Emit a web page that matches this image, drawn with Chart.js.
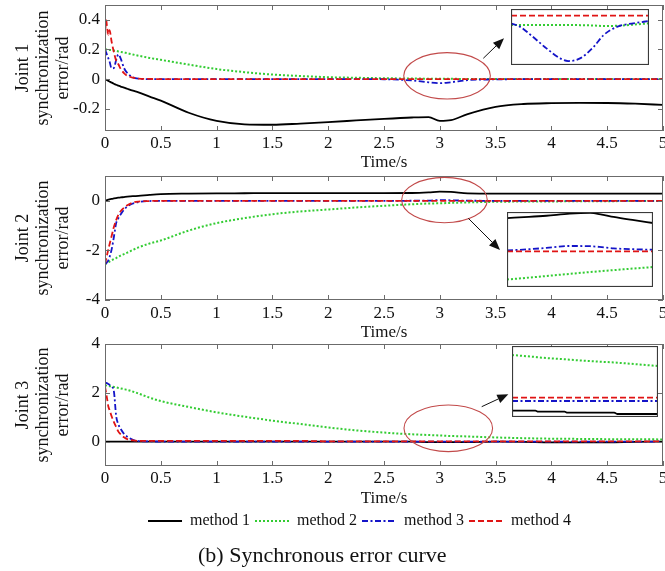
<!DOCTYPE html>
<html><head><meta charset="utf-8">
<script src="https://cdn.jsdelivr.net/npm/chart.js@4.4.1/dist/chart.umd.min.js"></script>
<style>
html,body{margin:0;padding:0;background:#fff;width:665px;height:571px;overflow:hidden;position:relative}
canvas{position:absolute;display:block}
.inset{background:#fff}
#caption{position:absolute;left:198px;top:542px;font-family:'Liberation Serif','Times New Roman',serif;font-size:22px;line-height:26px;color:#111;white-space:nowrap}
</style></head><body>
<canvas id="c1" width="665" height="173" style="left:0;top:0"></canvas>
<canvas id="c2" width="665" height="173" style="left:0;top:170px"></canvas>
<canvas id="c3" width="665" height="179" style="left:0;top:330px"></canvas>
<canvas id="i1" class="inset" width="138" height="56" style="left:511px;top:9px"></canvas>
<canvas id="i2" class="inset" width="146" height="75" style="left:507px;top:212px"></canvas>
<canvas id="i3" class="inset" width="146" height="71" style="left:512px;top:346px"></canvas>
<canvas id="lg" width="665" height="36" style="left:0;top:508px"></canvas>
<div id="caption">(b) Synchronous error curve</div>
<script>
// ---------- data ----------
const methodLabels = ['method 1', 'method 2', 'method 3', 'method 4'];
const time = [0,0.01,0.02,0.03,0.04,0.06,0.08,0.1,0.12,0.14,0.17,0.2,0.25,0.3,0.4,0.5,0.75,1,1.25,1.5,1.75,2,2.25,2.5,2.75,2.9,3,3.1,3.25,3.5,3.75,4,4.25,4.5,4.75,5];

const joint1M1 = [0,-0.004,-0.008,-0.012,-0.016,-0.024,-0.031,-0.038,-0.044,-0.05,-0.057,-0.065,-0.078,-0.09,-0.118,-0.145,-0.227,-0.282,-0.305,-0.308,-0.3,-0.29,-0.279,-0.268,-0.259,-0.256,-0.282,-0.277,-0.236,-0.187,-0.168,-0.162,-0.16,-0.161,-0.166,-0.174];
const joint1M2 = [0.2,0.2,0.199,0.198,0.197,0.195,0.193,0.19,0.187,0.184,0.179,0.175,0.166,0.158,0.143,0.13,0.098,0.068,0.047,0.031,0.021,0.013,0.009,0.006,0.004,0.003,0.002,0.002,0.001,0.001,0.001,0,0,0,0,0];
const joint1M3 = [0.2,0.18,0.16,0.14,0.12,0.072,0.075,0.13,0.167,0.14,0.075,0.04,0.012,0.003,0,0,0,0,0,0,0,0,0,-0.001,-0.009,-0.022,-0.0275,-0.021,-0.007,-0.002,0,0,0,0,0,0];
const joint1M4 = [0.28,0.4,0.34,0.3,0.33,0.25,0.18,0.125,0.1,0.07,0.04,0.022,0.01,0.003,0.001,0,0,0,0,0,0,0,0,0,0,0,0,0,0,0,0,0,0,0,0,0];

const joint2M1 = [0,0.015,0.03,0.045,0.06,0.08,0.095,0.11,0.125,0.135,0.15,0.165,0.185,0.2,0.24,0.27,0.29,0.3,0.305,0.31,0.31,0.31,0.31,0.31,0.315,0.34,0.37,0.36,0.3,0.29,0.29,0.29,0.29,0.29,0.29,0.29];
const joint2M2 = [-2.55,-2.53,-2.5,-2.48,-2.45,-2.4,-2.35,-2.31,-2.26,-2.21,-2.15,-2.09,-1.98,-1.88,-1.72,-1.6,-1.2,-0.9,-0.7,-0.54,-0.43,-0.35,-0.27,-0.2,-0.14,-0.11,-0.1,-0.085,-0.065,-0.04,-0.03,-0.025,-0.02,-0.015,-0.01,-0.005];
const joint2M3 = [-2.55,-2.52,-2.47,-2.4,-2.28,-1.95,-1.45,-0.9,-0.7,-0.55,-0.36,-0.23,-0.11,-0.05,-0.01,0,0,0,0,0,0,0,0,0,0.002,0.01,0.03,0.02,0.005,0,0,0,0,0,0,0];
const joint2M4 = [-2.55,-2.35,-2.15,-1.95,-1.77,-1.41,-1.05,-0.78,-0.56,-0.42,-0.28,-0.18,-0.07,-0.03,-0.01,0,0,0,0,0,0,0,0,0,0,0,0,0,0,0,0,0,0,0,0,0];

const joint3M1 = [0,0,0,0,0,0,0,0,0,0,0,0,0,0,0,0,0,0,0,0,0,0,0,0,0,-0.02,-0.02,-0.02,-0.02,0,-0.01,-0.03,-0.03,-0.03,-0.01,0];
const joint3M2 = [2.3,2.3,2.29,2.28,2.27,2.26,2.24,2.22,2.2,2.18,2.15,2.12,2.05,1.97,1.8,1.66,1.42,1.2,1.02,0.86,0.72,0.58,0.46,0.37,0.3,0.27,0.25,0.23,0.21,0.17,0.14,0.12,0.11,0.1,0.095,0.09];
const joint3M3 = [2.42,2.41,2.39,2.36,2.33,2.25,2.05,1.05,0.7,0.52,0.32,0.2,0.07,0.02,0.01,0,0,0,0,0,0,0,0,0,0,0,0,0,0,0,0,0,0,0,0,0];
const joint3M4 = [2.26,2.0,1.72,1.44,1.3,1.03,0.8,0.6,0.41,0.3,0.18,0.1,0.05,0.03,0.03,0.03,0.03,0.03,0.03,0.03,0.03,0.01,0.01,0.01,0.01,0.01,0.01,0.01,0.01,0.01,0.01,0.01,0.01,0.01,0.01,0.01];

// zoomed insets (around t = 3 s)
const inset1Time = [2.7,2.745,2.81,2.88,2.95,2.99,3.05,3.12,3.17,3.24,3.32,3.4];
const inset1M2 = [-0.0057,-0.0057,-0.0057,-0.0057,-0.0057,-0.0057,-0.0058,-0.006,-0.0063,-0.0062,-0.0055,-0.0047];
const inset1M3 = [-0.0047,-0.0067,-0.0128,-0.0199,-0.026,-0.0276,-0.026,-0.0189,-0.0118,-0.0067,-0.0047,-0.0033];
const inset1M4 = [0,0,0,0,0,0,0,0,0,0,0,0];

const inset2Time = [2.65,2.77,2.866,2.994,3.106,3.17,3.234,3.346,3.45];
const inset2M1 = [0.139,0.144,0.149,0.158,0.161,0.154,0.144,0.13,0.118];
const inset2M2 = [-0.123,-0.115,-0.108,-0.099,-0.091,-0.087,-0.083,-0.076,-0.07];
const inset2M3 = [0.001,0.006,0.012,0.02,0.019,0.015,0.01,0.006,0.004];
const inset2M4 = [-0.003,-0.003,-0.003,-0.003,-0.003,-0.003,-0.003,-0.003,-0.003];

const inset3Time = [2.65,2.778,2.794,2.858,2.938,2.954,3.042,3.21,3.226,3.45];
const inset3M1 = [0.013,0.013,0.003,0.003,0.003,-0.007,-0.007,-0.007,-0.02,-0.02];
const inset3M2 = [0.57,0.55,0.547,0.537,0.527,0.525,0.513,0.495,0.493,0.46];
const inset3M3 = [0.11,0.11,0.11,0.11,0.11,0.11,0.11,0.11,0.11,0.11];
const inset3M4 = [0.143,0.143,0.143,0.143,0.143,0.143,0.143,0.143,0.143,0.143];

const xTicks = [0,0.5,1,1.5,2,2.5,3,3.5,4,4.5,5];
const yTicks1 = [-0.2,0,0.2,0.4];
const yTicks2 = [-4,-2,0];
const yTicks3 = [0,2,4];
const yTitle1 = ['Joint 1','synchronization','error/rad'];
const yTitle2 = ['Joint 2','synchronization','error/rad'];
const yTitle3 = ['Joint 3','synchronization','error/rad'];
const xTitle = 'Time/s';

// ---------- styles ----------
const FONT = "'Liberation Serif','Times New Roman',serif";
const TEXT = '#111';
const styles = [
  {color:'#000000', width:1.8, dash:[]},
  {color:'#33cc33', width:2, dash:[2,2]},
  {color:'#1414c8', width:1.8, dash:[6,2.5,2,2.5]},
  {color:'#e01414', width:1.8, dash:[6,3]}
];

function pts(t, v){ return t.map((x,i)=>({x, y:v[i]})); }
function datasets(t, series){
  const out = [];
  series.forEach((v,i)=>{
    if(!v) return;
    out.push({label:methodLabels[i], data:pts(t,v), borderColor:styles[i].color, backgroundColor:styles[i].color,
      borderWidth:styles[i].width, borderDash:styles[i].dash, pointRadius:0, fill:false,
      cubicInterpolationMode:'monotone', order:4-i});
  });
  return out;
}

const framePlugin = {
  id:'frame',
  afterDraw(chart, args, o){
    const {ctx, chartArea:a, scales} = chart;
    ctx.save();
    ctx.setLineDash([]);
    ctx.strokeStyle = o.color || '#6b6b6b';
    ctx.lineWidth = o.width || 1;
    ctx.strokeRect(Math.round(a.left)+0.5, Math.round(a.top)+0.5, Math.round(a.width)-1, Math.round(a.height)-1);
    if(o.ticks){
      const L = 5;
      ctx.beginPath();
      scales.x.ticks.forEach(t=>{
        const px = Math.round(scales.x.getPixelForValue(t.value))+0.5;
        ctx.moveTo(px, a.bottom); ctx.lineTo(px, a.bottom-L);
        ctx.moveTo(px, a.top); ctx.lineTo(px, a.top+L);
      });
      scales.y.ticks.forEach(t=>{
        const py = Math.round(scales.y.getPixelForValue(t.value))+0.5;
        ctx.moveTo(a.left, py); ctx.lineTo(a.left+L, py);
        ctx.moveTo(a.right, py); ctx.lineTo(a.right-L, py);
      });
      ctx.stroke();
    }
    if(o.ellipse){
      const e = o.ellipse;
      ctx.beginPath();
      ctx.strokeStyle = '#c24a4a'; ctx.lineWidth = 1.1;
      ctx.ellipse(scales.x.getPixelForValue(e.t), scales.y.getPixelForValue(e.v), e.rx, e.ry, 0, 0, Math.PI*2);
      ctx.stroke();
    }
    if(o.arrow){
      const [x1,y1,x2,y2] = o.arrow;
      ctx.strokeStyle = '#111'; ctx.fillStyle = '#111'; ctx.lineWidth = 1;
      const ang = Math.atan2(y2-y1, x2-x1), hl = 11, hw = 4.5;
      const bx = x2 - hl*Math.cos(ang), by = y2 - hl*Math.sin(ang);
      ctx.beginPath(); ctx.moveTo(x1,y1); ctx.lineTo(bx,by); ctx.stroke();
      ctx.beginPath();
      ctx.moveTo(x2,y2);
      ctx.lineTo(bx + hw*Math.sin(ang), by - hw*Math.cos(ang));
      ctx.lineTo(bx - hw*Math.sin(ang), by + hw*Math.cos(ang));
      ctx.closePath(); ctx.fill();
    }
    ctx.restore();
  }
};

function mainChart(id, series, yMin, yMax, yTicks, yTitle, padTop, axisH, tickPad, ellipse, arrow){
  return new Chart(document.getElementById(id), {
    type:'line',
    data:{datasets:datasets(time, series)},
    options:{
      responsive:false, animation:false, devicePixelRatio:1, events:[],
      layout:{padding:{top:padTop, right:2, left:0, bottom:0}},
      plugins:{legend:{display:false}, tooltip:{enabled:false}, frame:{ticks:true, color:'#6b6b6b', ellipse, arrow}},
      scales:{
        x:{type:'linear', min:0, max:5,
          afterBuildTicks:s=>{ s.ticks = xTicks.map(v=>({value:v})); },
          afterFit:s=>{ s.height = axisH; s.paddingLeft = 0; s.paddingRight = 0; },
          grid:{display:false, drawTicks:false}, border:{display:false},
          ticks:{padding:tickPad, maxRotation:0, autoSkip:false, color:TEXT, font:{family:FONT, size:17}, callback:v=>String(v)},
          title:{display:true, text:xTitle, color:TEXT, font:{family:FONT, size:17}, padding:0}
        },
        y:{type:'linear', min:yMin, max:yMax,
          afterBuildTicks:s=>{ s.ticks = yTicks.map(v=>({value:v})); },
          afterFit:s=>{ s.width = 105; s.paddingTop = 0; s.paddingBottom = 0; },
          grid:{display:false, drawTicks:false}, border:{display:false},
          ticks:{padding:5, color:TEXT, font:{family:FONT, size:17}, callback:v=>String(v)},
          title:{display:true, text:yTitle, color:TEXT, font:{family:FONT, size:18, lineHeight:'20px'}, padding:{top:13, bottom:0}}
        }
      }
    },
    plugins:[framePlugin]
  });
}

function insetChart(id, t, series, xMin, xMax, yMin, yMax){
  return new Chart(document.getElementById(id), {
    type:'line',
    data:{datasets:datasets(t, series)},
    options:{
      responsive:false, animation:false, devicePixelRatio:1, events:[],
      layout:{padding:0},
      plugins:{legend:{display:false}, tooltip:{enabled:false}, frame:{ticks:false, color:'#3a3a3a', width:1.2}},
      scales:{
        x:{type:'linear', display:false, min:xMin, max:xMax},
        y:{type:'linear', display:false, min:yMin, max:yMax}
      }
    },
    plugins:[framePlugin]
  });
}

mainChart('c1', [joint1M1, joint1M2, joint1M3, joint1M4], -0.35, 0.5, yTicks1, yTitle1, 5, 42, 2,
  {t:3.065, v:0.022, rx:43.3, ry:23.2}, [483.3, 58.3, 504, 38.3]);
mainChart('c2', [joint2M1, joint2M2, joint2M3, joint2M4], -4, 1, yTicks2, yTitle2, 6, 43, 3,
  {t:3.042, v:0.03, rx:42.8, ry:22.7}, [468.3, 48.3, 500, 80]);
mainChart('c3', [joint3M1, joint3M2, joint3M3, joint3M4], -1, 4, yTicks3, yTitle3, 14, 43, 2,
  {t:3.076, v:0.545, rx:44.3, ry:23.3}, [481.7, 76.7, 508.3, 64.3]);

insetChart('i1', inset1Time, [null, inset1M2, inset1M3, inset1M4], 2.7, 3.4, -0.03, 0.004);
insetChart('i2', inset2Time, [inset2M1, inset2M2, inset2M3, inset2M4], 2.65, 3.45, -0.155, 0.165);
insetChart('i3', inset3Time, [inset3M1, inset3M2, inset3M3, inset3M4], 2.65, 3.45, -0.05, 0.66);

// legend
new Chart(document.getElementById('lg'), {
  type:'line',
  data:{datasets:methodLabels.map((lab,i)=>({label:lab, data:[], borderColor:styles[i].color, backgroundColor:styles[i].color, borderWidth:styles[i].width, borderDash:styles[i].dash}))},
  options:{
    responsive:false, animation:false, devicePixelRatio:1, events:[],
    layout:{padding:{left:54, right:0, top:0, bottom:0}},
    scales:{x:{type:'linear', display:false}, y:{display:false}},
    plugins:{tooltip:{enabled:false},
      legend:{display:true, position:'top',
        labels:{usePointStyle:true, pointStyle:'line', pointStyleWidth:34, padding:5, color:TEXT, font:{family:FONT, size:16},
          generateLabels:chart=>Chart.defaults.plugins.legend.labels.generateLabels(chart).map(item=>{
            const ds = chart.data.datasets[item.datasetIndex];
            return Object.assign({}, item, {lineDash:ds.borderDash, strokeStyle:ds.borderColor, lineWidth:ds.borderWidth, fillStyle:ds.borderColor});
          }),
          sort:(a,b)=>a.datasetIndex-b.datasetIndex}}}
  }
});
</script>
</body></html>
